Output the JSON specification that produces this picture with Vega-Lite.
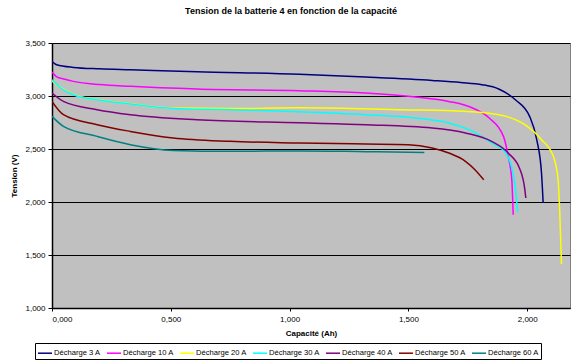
{
"$schema": "https://vega.github.io/schema/vega-lite/v6.json",
"width": 518, "height": 265,
"autosize": {"type": "none"},
"padding": {"left": 52, "top": 43, "right": 3, "bottom": 53},
"background": "white",
"config": {"font": "Liberation Sans", "view": {"fill": "#C0C0C0", "stroke": "#808080", "strokeWidth": 1}},
"title": {"text": "Tension de la batterie 4 en fonction de la capacité", "fontSize": 9, "fontWeight": "bold", "font": "Liberation Sans", "color": "black", "anchor": "middle", "offset": 23, "dx": -20},
"data": {"values": [
{"s":"Décharge 3 A","c":0,"v":3.326},{"s":"Décharge 3 A","c":0.02,"v":3.295},{"s":"Décharge 3 A","c":0.09,"v":3.270},{"s":"Décharge 3 A","c":0.2,"v":3.257},{"s":"Décharge 3 A","c":0.33,"v":3.248},{"s":"Décharge 3 A","c":0.61,"v":3.229},{"s":"Décharge 3 A","c":1.04,"v":3.205},{"s":"Décharge 3 A","c":1.32,"v":3.179},{"s":"Décharge 3 A","c":1.6,"v":3.147},{"s":"Décharge 3 A","c":1.72,"v":3.128},{"s":"Décharge 3 A","c":1.81,"v":3.107},{"s":"Décharge 3 A","c":1.88,"v":3.066},{"s":"Décharge 3 A","c":1.95,"v":2.965},{"s":"Décharge 3 A","c":2.01,"v":2.808},{"s":"Décharge 3 A","c":2.04,"v":2.588},{"s":"Décharge 3 A","c":2.06,"v":2.276},{"s":"Décharge 3 A","c":2.067,"v":1.991},
{"s":"Décharge 10 A","c":0,"v":3.226},{"s":"Décharge 10 A","c":0.02,"v":3.18},{"s":"Décharge 10 A","c":0.05,"v":3.16},{"s":"Décharge 10 A","c":0.09,"v":3.138},{"s":"Décharge 10 A","c":0.2,"v":3.108},{"s":"Décharge 10 A","c":0.33,"v":3.091},{"s":"Décharge 10 A","c":0.61,"v":3.066},{"s":"Décharge 10 A","c":1.04,"v":3.05},{"s":"Décharge 10 A","c":1.32,"v":3.028},{"s":"Décharge 10 A","c":1.53,"v":2.991},{"s":"Décharge 10 A","c":1.67,"v":2.949},{"s":"Décharge 10 A","c":1.77,"v":2.887},{"s":"Décharge 10 A","c":1.84,"v":2.792},{"s":"Décharge 10 A","c":1.9,"v":2.619},{"s":"Décharge 10 A","c":1.92,"v":2.43},{"s":"Décharge 10 A","c":1.935,"v":2.21},{"s":"Décharge 10 A","c":1.941,"v":1.88},
{"s":"Décharge 20 A","c":0,"v":3.14},{"s":"Décharge 20 A","c":0.05,"v":3.062},{"s":"Décharge 20 A","c":0.09,"v":3.015},{"s":"Décharge 20 A","c":0.19,"v":2.967},{"s":"Décharge 20 A","c":0.33,"v":2.927},{"s":"Décharge 20 A","c":0.51,"v":2.886},{"s":"Décharge 20 A","c":0.75,"v":2.881},{"s":"Décharge 20 A","c":1.04,"v":2.888},{"s":"Décharge 20 A","c":1.3,"v":2.88},{"s":"Décharge 20 A","c":1.46,"v":2.871},{"s":"Décharge 20 A","c":1.74,"v":2.855},{"s":"Décharge 20 A","c":1.88,"v":2.824},{"s":"Décharge 20 A","c":1.99,"v":2.729},{"s":"Décharge 20 A","c":2.06,"v":2.588},{"s":"Décharge 20 A","c":2.11,"v":2.43},{"s":"Décharge 20 A","c":2.13,"v":2.21},{"s":"Décharge 20 A","c":2.144,"v":1.415},
{"s":"Décharge 30 A","c":0,"v":3.154},{"s":"Décharge 30 A","c":0.048,"v":3.06},{"s":"Décharge 30 A","c":0.09,"v":3.012},{"s":"Décharge 30 A","c":0.19,"v":2.965},{"s":"Décharge 30 A","c":0.33,"v":2.925},{"s":"Décharge 30 A","c":0.51,"v":2.883},{"s":"Décharge 30 A","c":0.75,"v":2.871},{"s":"Décharge 30 A","c":1.04,"v":2.852},{"s":"Décharge 30 A","c":1.32,"v":2.824},{"s":"Décharge 30 A","c":1.53,"v":2.792},{"s":"Décharge 30 A","c":1.67,"v":2.745},{"s":"Décharge 30 A","c":1.77,"v":2.666},{"s":"Décharge 30 A","c":1.85,"v":2.557},{"s":"Décharge 30 A","c":1.91,"v":2.462},{"s":"Décharge 30 A","c":1.945,"v":2.21},{"s":"Décharge 30 A","c":1.96,"v":1.906},
{"s":"Décharge 40 A","c":0,"v":3.028},{"s":"Décharge 40 A","c":0.048,"v":2.949},{"s":"Décharge 40 A","c":0.19,"v":2.871},{"s":"Décharge 40 A","c":0.33,"v":2.824},{"s":"Décharge 40 A","c":0.61,"v":2.776},{"s":"Décharge 40 A","c":1.04,"v":2.747},{"s":"Décharge 40 A","c":1.32,"v":2.729},{"s":"Décharge 40 A","c":1.6,"v":2.698},{"s":"Décharge 40 A","c":1.74,"v":2.651},{"s":"Décharge 40 A","c":1.85,"v":2.572},{"s":"Décharge 40 A","c":1.92,"v":2.462},{"s":"Décharge 40 A","c":1.97,"v":2.305},{"s":"Décharge 40 A","c":1.99,"v":2.116},{"s":"Décharge 40 A","c":1.994,"v":2.038},
{"s":"Décharge 50 A","c":0,"v":2.949},{"s":"Décharge 50 A","c":0.048,"v":2.824},{"s":"Décharge 50 A","c":0.19,"v":2.729},{"s":"Décharge 50 A","c":0.33,"v":2.666},{"s":"Décharge 50 A","c":0.51,"v":2.604},{"s":"Décharge 50 A","c":0.75,"v":2.572},{"s":"Décharge 50 A","c":1.04,"v":2.557},{"s":"Décharge 50 A","c":1.32,"v":2.547},{"s":"Décharge 50 A","c":1.5,"v":2.541},{"s":"Décharge 50 A","c":1.6,"v":2.51},{"s":"Décharge 50 A","c":1.67,"v":2.462},{"s":"Décharge 50 A","c":1.74,"v":2.384},{"s":"Décharge 50 A","c":1.78,"v":2.305},{"s":"Décharge 50 A","c":1.817,"v":2.21},
{"s":"Décharge 60 A","c":0,"v":2.808},{"s":"Décharge 60 A","c":0.048,"v":2.714},{"s":"Décharge 60 A","c":0.19,"v":2.619},{"s":"Décharge 60 A","c":0.33,"v":2.541},{"s":"Décharge 60 A","c":0.51,"v":2.487},{"s":"Décharge 60 A","c":0.75,"v":2.478},{"s":"Décharge 60 A","c":1.04,"v":2.482},{"s":"Décharge 60 A","c":1.32,"v":2.475},{"s":"Décharge 60 A","c":1.567,"v":2.468}
]},
"mark": {"type": "line", "strokeWidth": 1.5, "interpolate": "monotone", "clip": true},
"encoding": {
 "x": {"field": "c", "type": "quantitative", "scale": {"domain": [0, 2.18], "nice": false, "zero": false},
  "axis": {"title": "Capacité (Ah)", "values": [0, 0.5, 1, 1.5, 2], "labelExpr": "replace(format(datum.value, '.3f'), '.', ',')", "grid": false, "domainColor": "black", "domainWidth": 1.5, "tickColor": "black", "tickSize": 3, "labelFontSize": 8, "labelColor": "black", "labelPadding": 4, "titleFontSize": 8, "titleFontWeight": "bold", "titleColor": "black", "titlePadding": 6}},
 "y": {"field": "v", "type": "quantitative", "scale": {"domain": [1, 3.5], "nice": false, "zero": false},
  "axis": {"title": "Tension (V)", "values": [1, 1.5, 2, 2.5, 3, 3.5], "labelExpr": "replace(format(datum.value, '.3f'), '.', ',')", "grid": true, "gridColor": "black", "gridOpacity": 1, "gridWidth": 1, "domainColor": "black", "domainWidth": 1.5, "tickColor": "black", "tickSize": 4, "labelFontSize": 8, "labelColor": "black", "labelPadding": 3, "titleFontSize": 8, "titleFontWeight": "bold", "titleColor": "black", "titlePadding": 6}},
 "color": {"field": "s", "type": "nominal",
  "scale": {"domain": ["Décharge 3 A", "Décharge 10 A", "Décharge 20 A", "Décharge 30 A", "Décharge 40 A", "Décharge 50 A", "Décharge 60 A"], "range": ["#000080", "#FF00FF", "#FFFF00", "#00FFFF", "#800080", "#800000", "#008080"]},
  "legend": {"title": null, "orient": "none", "legendX": -17, "legendY": 300, "direction": "horizontal", "columns": 7, "strokeColor": "black", "fillColor": "white", "padding": 2, "symbolType": "stroke", "symbolSize": 196, "symbolStrokeWidth": 1.5, "labelFontSize": 7.6, "labelColor": "black", "labelOffset": 1, "columnPadding": 3}}
}
}
